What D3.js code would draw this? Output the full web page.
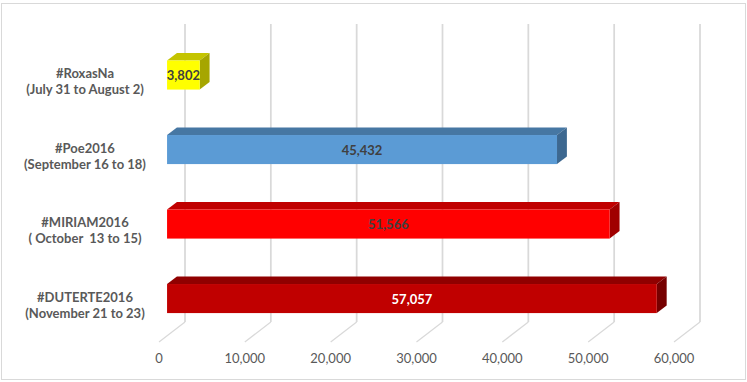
<!DOCTYPE html>
<html>
<head>
<meta charset="utf-8">
<script src="https://cdn.jsdelivr.net/npm/d3@7"></script>
<style>
  body { margin: 0; background: #fff; }
  svg text { font-family: Lato, "Liberation Sans", Arial, sans-serif; }
</style>
</head>
<body>
<div id="chart"></div>
<script>
// --- data ---
const tags = ["#RoxasNa", "#Poe2016", "#MIRIAM2016", "#DUTERTE2016"];
const dates = ["(July 31 to August 2)", "(September 16 to 18)", "( October  13 to 15)", "(November 21 to 23)"];
const tweets = [3802, 45432, 51566, 57057];
const ticks = [0, 10000, 20000, 30000, 40000, 50000, 60000];

// colours per bar: front / top / side, and label colour
const front_col = ["#ffff00", "#5b9bd5", "#ff0000", "#c00000"];
const top_col = ["#c4c400", "#4677a3", "#c00000", "#900000"];
const side_col = ["#a6a600", "#3d6890", "#a00000", "#760000"];
const label_col = ["#404040", "#404040", "#404040", "#ffffff"];

const width = 747, height = 382;

// 3d box: back wall to front floor offset
const depth = {dx: 26, dy: 20};
const f0 = 0.31, f1 = 0.69;   // bar sits between these depth fractions

let svg = d3.select("#chart")
    .append("svg")
    .attr("width", width)
    .attr("height", height);

// outer frame
svg.append("rect")
    .attr("x", 1.5).attr("y", 3.5)
    .attr("width", 744).attr("height", 376)
    .attr("fill", "none")
    .attr("stroke", "#d9d9d9");

// x scale on the front plane
let x = d3.scaleLinear()
    .domain([0, 60000])
    .range([159, 674]);

// categories on the front plane
let y = d3.scaleBand()
    .domain(tags)
    .range([44, 342])
    .paddingInner(0.61)
    .paddingOuter(0.305);

const wallTop = 24, floorFront = 342;

// back wall gridlines + floor diagonals
let grid = svg.append("g");
grid.selectAll(".vline").data(ticks).enter()
    .append("line").attr("class", "vline")
    .attr("x1", d => x(d) + depth.dx)
    .attr("x2", d => x(d) + depth.dx)
    .attr("y1", wallTop)
    .attr("y2", floorFront - depth.dy)
    .attr("stroke", "#d9d9d9")
    .attr("stroke-width", 1.75);
grid.selectAll(".dline").data(ticks).enter()
    .append("line").attr("class", "dline")
    .attr("x1", d => x(d) + depth.dx)
    .attr("x2", d => x(d))
    .attr("y1", floorFront - depth.dy)
    .attr("y2", floorFront)
    .attr("stroke", "#d9d9d9")
    .attr("stroke-width", 1.25);

// tick labels
svg.append("g").selectAll("text").data(ticks).enter()
    .append("text")
    .attr("x", d => x(d))
    .attr("y", 363)
    .attr("text-anchor", "middle")
    .style("font-size", "13px")
    .attr("fill", "#595959")
    .text(d => d3.format(",")(d));

// bars
const ox = depth.dx * f0, oy = -depth.dy * f0;
const ddx = depth.dx * (f1 - f0), ddy = depth.dy * (f1 - f0);

let bars = svg.append("g").selectAll("g").data(tags).enter().append("g");

bars.each(function(d, i) {
  let g = d3.select(this);
  let x0 = x(0) + ox, x1 = x(tweets[i]) + ox;
  let y0 = y(d) + oy, h = y.bandwidth();
  // top face
  g.append("polygon")
    .attr("points", [[x0, y0], [x0 + ddx, y0 - ddy], [x1 + ddx, y0 - ddy], [x1, y0]].join(" "))
    .attr("fill", top_col[i]);
  // right side
  g.append("polygon")
    .attr("points", [[x1, y0], [x1 + ddx, y0 - ddy], [x1 + ddx, y0 + h - ddy], [x1, y0 + h]].join(" "))
    .attr("fill", side_col[i]);
  // front face
  g.append("rect")
    .attr("x", x0).attr("y", y0)
    .attr("width", x1 - x0).attr("height", h)
    .attr("fill", front_col[i]);
  // value label
  g.append("text")
    .attr("x", (x0 + x1) / 2)
    .attr("y", y0 + h / 2 + 5)
    .attr("text-anchor", "middle")
    .style("font-size", "13px")
    .style("font-weight", "bold")
    .attr("fill", label_col[i])
    .text(d3.format(",")(tweets[i]));
});

// category labels (two lines each)
let cats = svg.append("g").selectAll("text").data(tags).enter()
    .append("text")
    .attr("text-anchor", "middle")
    .style("font-size", "13px")
    .style("font-weight", "bold")
    .style("white-space", "pre")
    .attr("fill", "#595959");
cats.append("tspan")
    .attr("x", 85)
    .attr("y", d => y(d) + y.bandwidth() / 2 - 3)
    .text(d => d);
cats.append("tspan")
    .attr("x", 85)
    .attr("y", d => y(d) + y.bandwidth() / 2 + 13)
    .text((d, i) => dates[i]);
</script>
</body>
</html>
